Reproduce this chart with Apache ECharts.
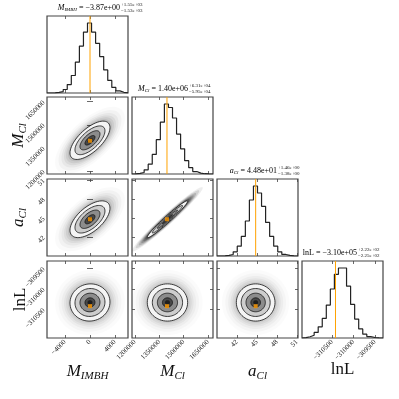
<!DOCTYPE html>
<html>
<head>
<meta charset="utf-8">
<title>corner</title>
<script src="https://cdn.jsdelivr.net/npm/echarts@6/dist/echarts.min.js"></script>
<style>
  html, body { margin: 0; padding: 0; background: #fff; }
  #chart { width: 399px; height: 399px; }
</style>
</head>
<body>
<div id="chart"></div>
<script>
// axis ranges, shared between x and y for each parameter
var axisMin = [-6880, 1182000, 39.0, -311200];
var axisMax = [6080, 1680000, 51.15, -309314];
var tickValues = [
  [-4000, 0, 4000],
  [1200000, 1350000, 1500000, 1650000],
  [42, 45, 48, 51],
  [-310500, -310000, -309500]
];

// marginal summaries (median, 1 sigma) and the marked point
var medians = [-3.87, 1400000, 44.8, -310330];
var sigmas = [1600, 62000, 1.45, 228];
var truths = [0, 1397000, 44.8, -310420];

// correlation for each 2d panel, key = row-col
var pairRho = { '1-0': 0.66, '2-0': 0.6, '2-1': 0.975, '3-0': 0.03, '3-1': 0.0, '3-2': 0.0 };

// 20-bin histograms (relative counts) read from the diagonal
var histMIMBH = [0, 0.003, 0.008, 0.02, 0.05, 0.12, 0.25, 0.44, 0.67, 0.87, 1.0, 0.87, 0.71, 0.52, 0.33, 0.18, 0.08, 0.03, 0.01, 0.003];
var histMCl   = [0.002, 0.008, 0.022, 0.06, 0.14, 0.28, 0.49, 0.74, 1.0, 0.95, 0.8, 0.57, 0.36, 0.19, 0.09, 0.035, 0.012, 0.004, 0.001, 0];
var histaCl   = [0, 0.002, 0.008, 0.022, 0.06, 0.14, 0.28, 0.5, 0.8, 1.0, 0.9, 0.71, 0.48, 0.28, 0.14, 0.06, 0.022, 0.008, 0.002, 0];
var histlnL   = [0.006, 0.018, 0.04, 0.08, 0.16, 0.28, 0.47, 0.7, 0.91, 1.0, 1.0, 0.74, 0.48, 0.27, 0.13, 0.055, 0.02, 0.007, 0.002, 0];
var hists = [histMIMBH, histMCl, histaCl, histlnL];

// titles over the diagonal
var titleMain = ['−3.87e+00', '1.40e+06', '4.48e+01', '−3.10e+05'];
var titleUp = ['+1.55e+03', '+6.31e+04', '+1.46e+00', '+2.22e+02'];
var titleDown = ['−1.53e+03', '−5.95e+04', '−1.38e+00', '−2.25e+02'];
var titleSym = ['{m|M}{s|IMBH}', '{m|M}{s|Cl}', '{m|a}{s|Cl}', '{r|lnL}'];
var axisNames = ['{m|M}{s|IMBH}', '{m|M}{s|Cl}', '{m|a}{s|Cl}', '{r|lnL}'];

// layout
var colLeft = [47, 132, 217, 302], colW = 81;
var rowTop = [16, 97, 179, 261], rowH = 77;
var titleEnd = [73, 56, 60, 55];

var serif = 'Liberation Serif';
var nameRich = {
  m: { fontFamily: serif, fontStyle: 'italic', fontSize: 17, color: '#111' },
  s: { fontFamily: serif, fontStyle: 'italic', fontSize: 11, color: '#111', padding: [10, 0, 0, 0] },
  r: { fontFamily: serif, fontSize: 17, color: '#111' }
};
var titleRich = {
  m: { fontFamily: serif, fontStyle: 'italic', fontSize: 8, color: '#111' },
  s: { fontFamily: serif, fontStyle: 'italic', fontSize: 5, color: '#111', padding: [4, 0, 0, 0] },
  r: { fontFamily: serif, fontSize: 8, color: '#111' },
  t: { fontFamily: serif, fontSize: 8, color: '#111' }
};

function fmt(v) { return v < 0 ? '−' + Math.abs(v) : String(v); }

var tickStyle = { inside: true, length: 3, lineStyle: { color: '#444', width: 0.8 } };

var grids = [], xAxes = [], yAxes = [], series = [], graphics = [];

function addAxis(list, gridIndex, p, position, showLabel, nameStr, rot, gap) {
  var ax = {
    type: 'value', gridIndex: gridIndex, position: position,
    min: axisMin[p], max: axisMax[p],
    axisLine: { show: false },
    splitLine: { show: false },
    axisTick: Object.assign({ show: true, customValues: tickValues[p] }, tickStyle),
    axisLabel: {
      show: showLabel, customValues: tickValues[p], rotate: 45, margin: 3,
      fontSize: 7, fontFamily: serif, color: '#222', formatter: fmt
    }
  };
  if (nameStr) {
    ax.name = nameStr;
    ax.nameLocation = 'middle';
    ax.nameGap = gap;
    ax.nameRotate = rot;
    ax.nameMoveOverlap = false;
    ax.nameTextStyle = { rich: nameRich };
  }
  list.push(ax);
  return list.length - 1;
}

function ellipse(api, cx, cy, sx, sy, rho, r) {
  var pts = [], n = 64, q = Math.sqrt(1 - rho * rho);
  for (var k = 0; k < n; k++) {
    var t = 2 * Math.PI * k / n;
    var dx = r * sx * Math.cos(t);
    var dy = r * sy * (rho * Math.cos(t) + q * Math.sin(t));
    pts.push(api.coord([cx + dx, cy + dy]));
  }
  return pts;
}

function contourRender(px, py, rho) {
  return function (params, api) {
    var cx = medians[px], cy = medians[py], sx = sigmas[px], sy = sigmas[py];
    var children = [];
    // the sample cloud outside the outer contour, denser when the ellipse is thin
    var dense = Math.min(7, 1 / Math.sqrt(1 - rho * rho));
    [3.5, 3.15, 2.85, 2.6, 2.4, 2.2].forEach(function (r, k) {
      var a = Math.min(0.5, (0.016 + 0.008 * k) * dense);
      children.push({ type: 'polygon', shape: { points: ellipse(api, cx, cy, sx, sy, rho, r) }, style: { fill: 'rgba(0,0,0,' + a.toFixed(3) + ')' } });
    });
    var fills = [[2.0, '#f4f4f4'], [1.5, '#cdcdcd'], [1.0, '#8c8c8c'], [0.5, '#484848'], [0.25, '#1e1e1e']];
    fills.forEach(function (f) {
      children.push({ type: 'polygon', shape: { points: ellipse(api, cx, cy, sx, sy, rho, f[0]) }, style: { fill: f[1] } });
    });
    [2.0, 1.5, 1.0, 0.5].forEach(function (r) {
      children.push({ type: 'polygon', shape: { points: ellipse(api, cx, cy, sx, sy, rho, r) }, style: { fill: 'none', stroke: '#111', lineWidth: 0.8 } });
    });
    return { type: 'group', children: children };
  };
}

for (var r = 0; r < 4; r++) {
  for (var c = 0; c <= r; c++) {
    var gi = grids.length;
    grids.push({ left: colLeft[c], top: rowTop[r], width: colW, height: rowH, show: true, borderColor: '#444', borderWidth: 1.2, backgroundColor: 'transparent' });
    var bottomRow = (r === 3);
    var xi = addAxis(xAxes, gi, c, 'bottom', bottomRow, bottomRow ? axisNames[c] : null, 0, 23);
    addAxis(xAxes, gi, c, 'top', false, null, 0, 0);
    if (r === c) {
      var counts = hists[c];
      var peak = Math.max.apply(null, counts);
      var yi = yAxes.length;
      yAxes.push({ type: 'value', gridIndex: gi, min: 0, max: peak * 1.1, axisLine: { show: false }, axisTick: { show: false }, axisLabel: { show: false }, splitLine: { show: false } });
      var bw = (axisMax[c] - axisMin[c]) / counts.length;
      var pts = [[axisMin[c], 0]];
      counts.forEach(function (v, k) { pts.push([axisMin[c] + k * bw, v]); });
      pts.push([axisMax[c], 0]);
      series.push({ type: 'line', step: 'end', xAxisIndex: xi, yAxisIndex: yi, data: pts, symbol: 'none', lineStyle: { color: '#222', width: 1.2 }, z: 3 });
      series.push({ type: 'line', xAxisIndex: xi, yAxisIndex: yi, data: [[truths[c], 0], [truths[c], peak * 1.1]], symbol: 'none', lineStyle: { color: '#ffa200', width: 1 }, z: 4 });
      graphics.push({
        type: 'group', x: colLeft[c] + titleEnd[c], y: rowTop[r] - 8,
        children: [
          { type: 'text', style: { text: titleSym[c] + '{t| = ' + titleMain[c] + '}', rich: titleRich, align: 'right', verticalAlign: 'middle' } },
          { type: 'text', x: 1, y: -3, style: { text: titleUp[c], fontFamily: serif, fontSize: 5, fill: '#111', align: 'left', verticalAlign: 'middle' } },
          { type: 'text', x: 1, y: 3, style: { text: titleDown[c], fontFamily: serif, fontSize: 5, fill: '#111', align: 'left', verticalAlign: 'middle' } }
        ]
      });
    } else {
      var leftCol = (c === 0);
      var yi2 = addAxis(yAxes, gi, r, 'left', leftCol, leftCol ? axisNames[r] : null, 90, 18);
      addAxis(yAxes, gi, r, 'right', false, null, 0, 0);
      series.push({ type: 'custom', xAxisIndex: xi, yAxisIndex: yi2, clip: true, data: [[medians[c], medians[r]]], renderItem: contourRender(c, r, pairRho[r + '-' + c]), z: 2 });
      series.push({ type: 'scatter', xAxisIndex: xi, yAxisIndex: yi2, data: [[truths[c], truths[r]]], symbol: 'rect', symbolSize: 4, itemStyle: { color: '#ff9a00' }, z: 5 });
    }
  }
}

var chart = echarts.init(document.getElementById('chart'));
chart.setOption({
  animation: false,
  backgroundColor: '#fff',
  grid: grids,
  xAxis: xAxes,
  yAxis: yAxes,
  series: series,
  graphic: graphics
});
</script>
</body>
</html>
